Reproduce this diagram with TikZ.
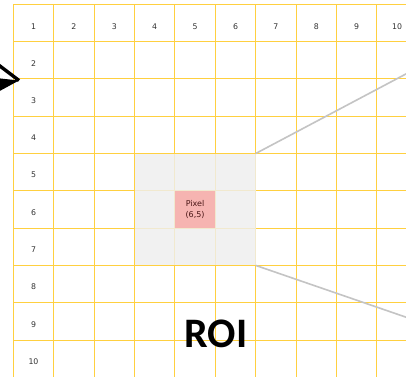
\documentclass[tikz,border=0pt]{standalone}
\usepackage{fontspec}
\setmainfont{DejaVu Sans}
\newfontfamily\roifont{Carlito}
\definecolor{gridy}{HTML}{FFD040}
\definecolor{labelgray}{HTML}{333333}
\definecolor{roigray}{HTML}{EFEFEF}
\definecolor{pixpink}{HTML}{F7AFAC}
\definecolor{pixtext}{HTML}{4A1515}
\definecolor{zoomline}{HTML}{C4C4C4}
\begin{document}
\begin{tikzpicture}[x=1pt,y=-1pt,
  gridline/.style={draw=gridy, line width=1pt},
  lbl/.style={font=\fontsize{7.8}{9}\selectfont, text=labelgray, inner sep=0pt},
  cellbox/.style={anchor=north west, inner sep=0pt, outer sep=0pt},
  zoomln/.style={draw=zoomline, line width=1.6pt},
  pointer/.style={draw=black, line width=3.4pt, line join=miter, line cap=butt}]
\useasboundingbox (0,0) rectangle (406,376);
\clip (0,0) rectangle (406,376);
\fill[white] (0,0) rectangle (406,376);
% grid
\foreach \i in {0,...,10} {
  \draw[gridline] ({13.3+40.4*\i},4.3) -- ({13.3+40.4*\i},380);
  \draw[gridline] (13.3,{4.3+37.3*\i}) -- (420,{4.3+37.3*\i});
}
% labels
\foreach \i in {1,...,10} {
  \node[lbl] (c\i) at ({13.3+40.4*(\i-0.5)},26.5) {\i};
}
\foreach \j in {2,...,10} {
  \node[lbl] (r\j) at (33.5,{4.3+37.3*(\j-0.5)+3}) {\j};
}
% region of interest
\node[cellbox, fill=roigray, fill opacity=0.82, minimum width=121.2pt, minimum height=111.9pt] (win) at (134.5,153.5) {};
\node[cellbox, fill=pixpink, fill opacity=0.92, minimum width=40.4pt, minimum height=37.3pt] (pix) at (174.9,190.8) {};
\node[font=\fontsize{8}{10.5}\selectfont, text=pixtext, align=center, inner sep=0pt] (pixlbl) at (pix.center) {Pixel\\(6,5)};
% zoom lines
\coordinate (zt) at (420,66.5);
\coordinate (zb) at (420,322);
\draw[zoomln] (win.north east) -- (zt);
\draw[zoomln] (win.south east) -- (zb);
% ROI label
\node[font=\roifont\bfseries\fontsize{42}{44}\selectfont, inner sep=0pt] (roi) at (216,334) {ROI};
% pointer arrow
\coordinate (ptip) at (19,80.5);
\coordinate (pa) at (-4,63);
\coordinate (pb) at (-4,78);
\coordinate (pc) at (-4,93);
\draw[pointer] (pa) -- (ptip);
\fill[black] (pb) -- (ptip) -- (pc) -- cycle;
\end{tikzpicture}
\end{document}
